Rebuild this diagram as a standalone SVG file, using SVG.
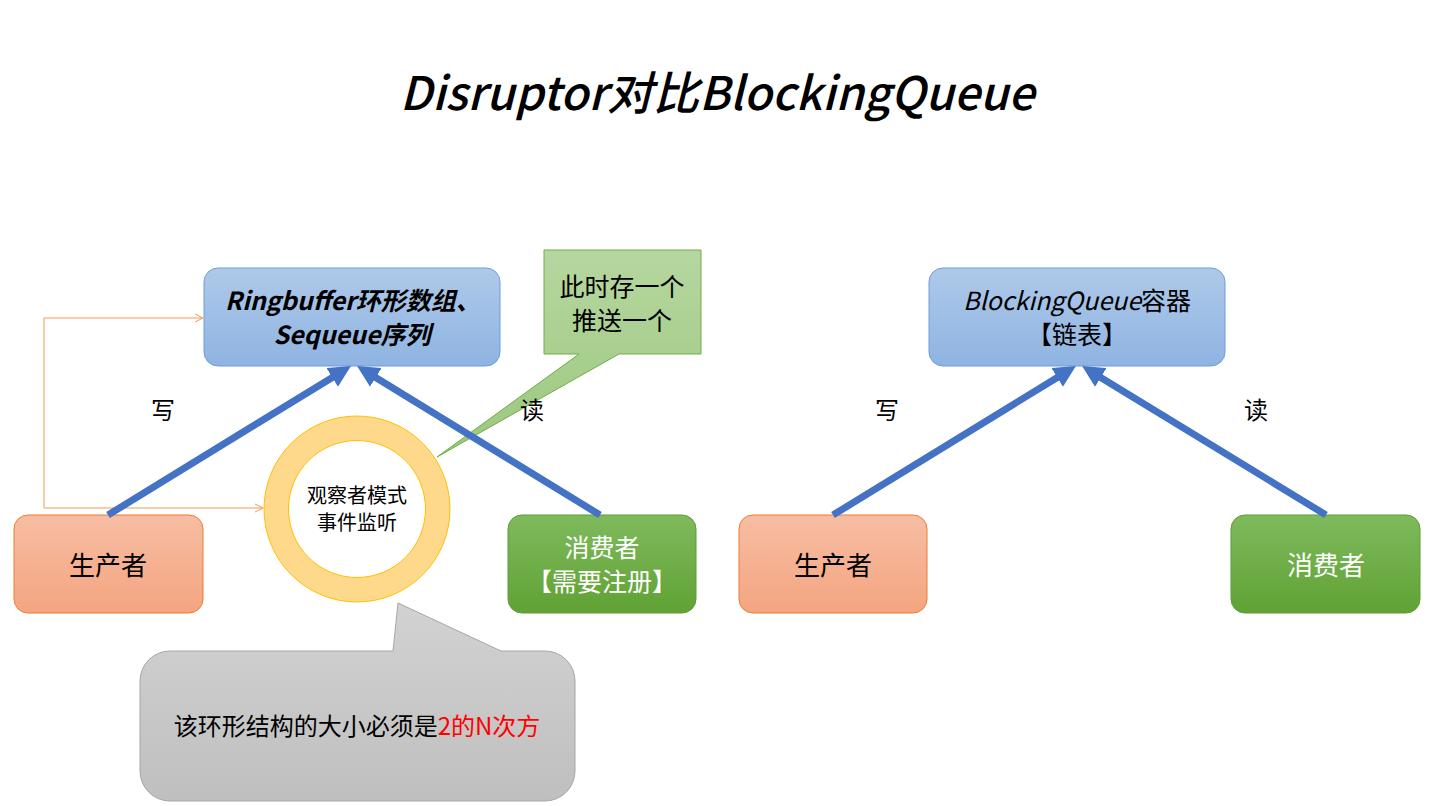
<svg xmlns="http://www.w3.org/2000/svg" width="1436" height="806" viewBox="0 0 1436 806">
<defs>
<linearGradient id="gBlue" x1="0" y1="0" x2="0" y2="1"><stop offset="0" stop-color="#aec9e9"/><stop offset="1" stop-color="#8fb4e2"/></linearGradient>
<linearGradient id="gOrange" x1="0" y1="0" x2="0" y2="1"><stop offset="0" stop-color="#f7bda3"/><stop offset="1" stop-color="#f4a580"/></linearGradient>
<linearGradient id="gGreen" x1="0" y1="0" x2="0" y2="1"><stop offset="0" stop-color="#7fba5d"/><stop offset="1" stop-color="#60a234"/></linearGradient>
<linearGradient id="gCall" x1="0" y1="0" x2="0" y2="1"><stop offset="0" stop-color="#b6d7a0"/><stop offset="1" stop-color="#9cc77f"/></linearGradient>
<linearGradient id="gGray" x1="0" y1="0" x2="0" y2="1"><stop offset="0" stop-color="#d2d2d2"/><stop offset="1" stop-color="#bfbfbf"/></linearGradient>
<marker id="bigArrow" viewBox="0 0 22 22" refX="4" refY="11" markerWidth="22" markerHeight="22" markerUnits="userSpaceOnUse" orient="auto">
<path d="M0,0 L22,11 L0,22 z" fill="#4472c4"/>
</marker>
<marker id="openArrow" viewBox="0 0 10 10" refX="9" refY="5" markerWidth="10" markerHeight="10" markerUnits="userSpaceOnUse" orient="auto-start-reverse">
<path d="M1,1 L9,5 L1,9" fill="none" stroke="#f19a52" stroke-width="1"/>
</marker>
</defs>
<style>
text{font-family:"Noto Sans CJK SC","Noto Sans",sans-serif;text-anchor:middle;fill:#000}
.title{font-size:46px;font-style:italic;font-weight:500}
.box{font-size:26px}
.two{font-size:25px}
.bi{font-weight:bold;font-style:italic}
.it{font-style:italic}
.w{fill:#fff}
.lbl{font-size:24px}
.blue{fill:url(#gBlue);stroke:#6d9edb;stroke-width:1}
.prod{fill:url(#gOrange);stroke:#ed7d31;stroke-width:1}
.cons{fill:url(#gGreen);stroke:#5f9c36;stroke-width:1}
.big{stroke:#4472c4;stroke-width:7;fill:none;marker-end:url(#bigArrow)}
.thin{stroke:#f19a52;stroke-width:1;fill:none;marker-start:url(#openArrow);marker-end:url(#openArrow)}
</style>
<rect width="1436" height="806" fill="#fff"/>
<text class="title" x="717" y="110">Disruptor对比BlockingQueue</text>

<g id="callout-green">
<path d="M544,250 H701 V354 H619 L437,457 L579,354 H544 Z" fill="url(#gCall)" stroke="#70ad47" stroke-width="1"/>
<text class="two" x="622" y="296">此时存一个</text>
<text class="two" x="622" y="330">推送一个</text>
</g>

<g id="ringbuffer">
<rect class="blue" x="204" y="268" width="296" height="98" rx="14"/>
<text class="two bi" x="353" y="310">Ringbuffer环形数组、</text>
<text class="two bi" x="352" y="344">Sequeue序列</text>
</g>

<g id="observer">
<path d="M264,509 a93,93 0 1,0 186,0 a93,93 0 1,0 -186,0 Z M288.5,509 a68.5,68.5 0 1,0 137,0 a68.5,68.5 0 1,0 -137,0 Z" fill="#ffd98b" fill-rule="evenodd" stroke="#ffc000" stroke-width="1"/>
<text x="357" y="503" font-size="20">观察者模式</text>
<text x="357" y="530" font-size="20">事件监听</text>
</g>

<g id="producer-left">
<rect class="prod" x="14" y="515" width="189" height="98" rx="14"/>
<text class="box" x="108" y="575">生产者</text>
</g>

<g id="consumer-left">
<rect class="cons" x="508" y="515" width="188" height="98" rx="14"/>
<text class="two w" x="602" y="557">消费者</text>
<text class="two w" x="602" y="591">【需要注册】</text>
</g>

<g id="blockingqueue">
<rect class="blue" x="929" y="268" width="296" height="98" rx="14"/>
<text class="two" x="1077" y="310"><tspan class="it">BlockingQueue</tspan>容器</text>
<text class="two" x="1077" y="344">【链表】</text>
</g>

<g id="producer-right">
<rect class="prod" x="739" y="515" width="188" height="98" rx="14"/>
<text class="box" x="833" y="575">生产者</text>
</g>

<g id="consumer-right">
<rect class="cons" x="1231" y="515" width="189" height="98" rx="14"/>
<text class="box w" x="1326" y="575">消费者</text>
</g>

<g id="callout-gray">
<path d="M170,651 H393 L398,603 L501,651 H545 A30,30 0 0 1 575,681 V771 A30,30 0 0 1 545,801 H170 A30,30 0 0 1 140,771 V681 A30,30 0 0 1 170,651 Z" fill="url(#gGray)" stroke="#a6a6a6" stroke-width="1"/>
<text x="357" y="735" font-size="24">该环形结构的大小必须是<tspan fill="#ff0000">2的N次方</tspan></text>
</g>

<g id="connectors">
<path class="thin" d="M203,318 H44 V508 H263"/>
<line class="big" x1="108" y1="515" x2="335.6" y2="375.4"/>
<line class="big" x1="600" y1="515" x2="372.4" y2="375.4"/>
<line class="big" x1="833" y1="515" x2="1060.6" y2="375.4"/>
<line class="big" x1="1326" y1="515" x2="1097.4" y2="375.4"/>
<text class="lbl" x="163" y="419">写</text>
<text class="lbl" x="532" y="419">读</text>
<text class="lbl" x="887" y="419">写</text>
<text class="lbl" x="1256" y="419">读</text>
</g>
</svg>
